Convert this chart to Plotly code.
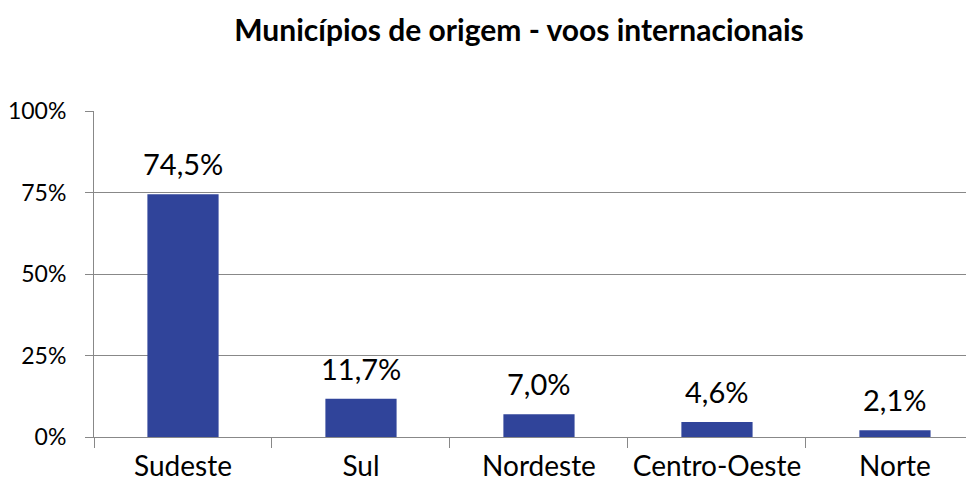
import plotly.graph_objects as go

categories = ["Sudeste", "Sul", "Nordeste", "Centro-Oeste", "Norte"]
values = [74.5, 11.7, 7.0, 4.6, 2.1]
y_ticks = [0, 25, 50, 75, 100]
y_tick_labels = ["0%", "25%", "50%", "75%", "100%"]
title_text = "Municípios de origem - voos internacionais"

labels = [f"{v:.1f}".replace(".", ",") + "%" for v in values]

# page body has an 8px default margin, so the figure is drawn at (8, 8)
W, H = 966, 483
FONT = "Lato, 'Open Sans', sans-serif"
BAR = "#30449A"
GRID = "#888888"

fig = go.Figure()
fig.add_trace(go.Bar(
    x=categories, y=values, width=0.4,
    marker=dict(color=BAR, line=dict(width=0)),
    hoverinfo="skip",
))

for c, v, t in zip(categories, values, labels):
    fig.add_annotation(x=c, y=v, text=t, showarrow=False, xref="x", yref="y",
                       yanchor="bottom", yshift=11,
                       font=dict(family=FONT, size=29, color="#000000"))

fig.update_layout(
    width=W, height=H,
    margin=dict(l=86, r=0, t=103, b=54, pad=0, autoexpand=False),
    paper_bgcolor="white", plot_bgcolor="white",
    showlegend=False,
    bargap=0.6,
    title=dict(text="<b>" + title_text + "</b>", x=511 / W, xref="container",
               xanchor="center", y=1 - 22 / H, yref="container", yanchor="middle",
               font=dict(family=FONT, size=30, color="#000000")),
    font=dict(family=FONT, color="#000000"),
)
fig.update_xaxes(
    range=[-0.5, 4.444], type="category", automargin=False,
    tickson="boundaries", ticks="outside", ticklen=10, tickcolor=GRID, tickwidth=1,
    showline=True, linecolor=GRID, linewidth=1,
    showgrid=False, zeroline=False,
    tickfont=dict(family=FONT, size=28, color="#000000"),
    ticklabelstandoff=4,
    fixedrange=True,
)
fig.update_yaxes(
    range=[0, 100], tickvals=y_ticks, ticktext=y_tick_labels, automargin=False,
    ticks="outside", ticklen=8, tickcolor=GRID, tickwidth=1,
    showline=True, linecolor=GRID, linewidth=1,
    showgrid=True, gridcolor=GRID, gridwidth=1, zeroline=False,
    tickfont=dict(family=FONT, size=23, color="#000000"),
    ticklabelstandoff=14,
    fixedrange=True,
)

fig.write_html("out.html", config={"displayModeBar": False})
